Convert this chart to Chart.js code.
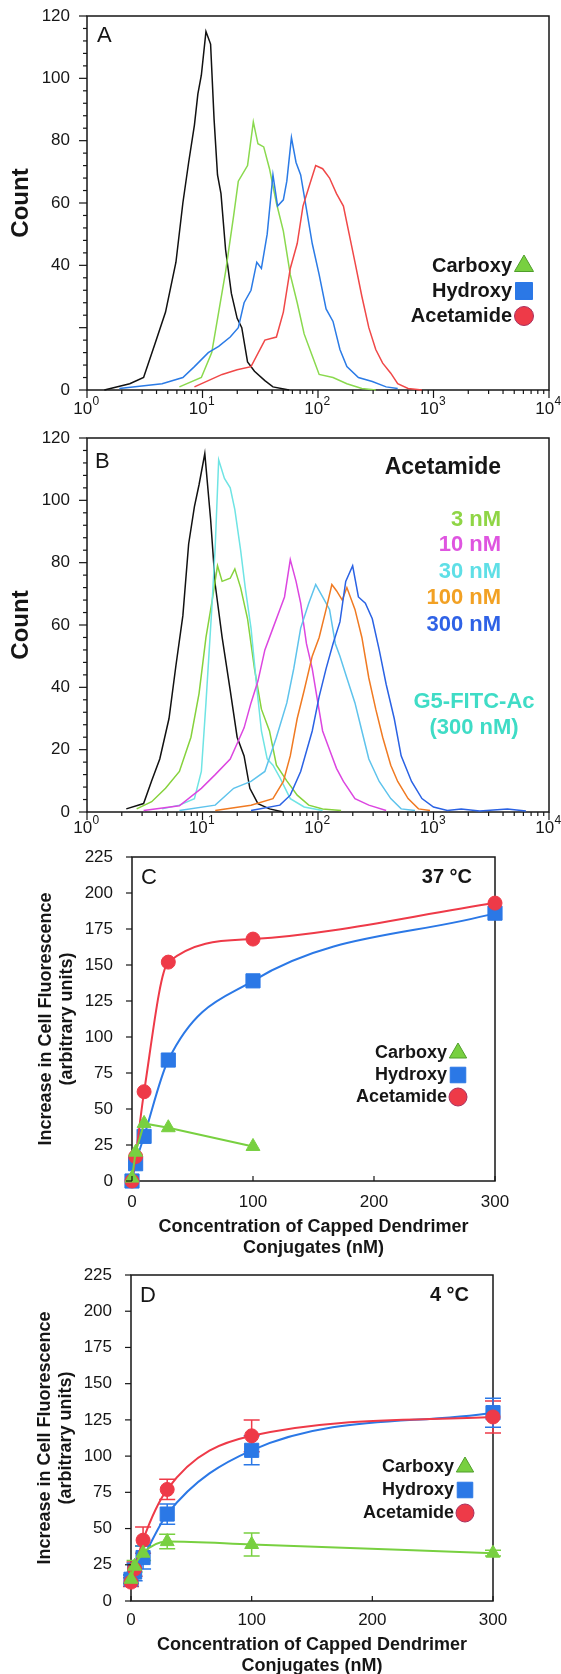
<!DOCTYPE html>
<html>
<head>
<meta charset="utf-8">
<script src="https://cdn.jsdelivr.net/npm/chart.js@4.4.1/dist/chart.umd.min.js"></script>
<style>
  html, body { margin:0; padding:0; background:#fff; }
  body { width:561px; height:1674px; position:relative; overflow:hidden; }
  canvas { position:absolute; left:0; display:block; }
</style>
</head>
<body>
<canvas id="chartA" width="561" height="428" style="top:0"></canvas>
<canvas id="chartB" width="561" height="412" style="top:428px"></canvas>
<canvas id="chartC" width="561" height="418" style="top:840px"></canvas>
<canvas id="chartD" width="561" height="416" style="top:1258px"></canvas>
<script>
const FONT = '"Liberation Sans", Arial, Helvetica, sans-serif';

// ---- axis ticks
const decadeTicks = [1, 10, 100, 1000, 10000];
const decadeExp = ["0", "1", "2", "3", "4"];
const doseXTicks = [0, 100, 200, 300];
const doseYTicks = [0, 25, 50, 75, 100, 125, 150, 175, 200, 225];

// ---- panel A histograms (x in log10 decades, y = count)
const ctrlA_d = [0.15,0.37,0.49,0.59,0.68,0.77,0.83,0.88,0.93,0.96,0.99,1.03,1.07,1.10,1.13,1.16,1.20,1.25,1.30,1.34,1.39,1.45,1.54,1.61,1.75];
const ctrlA   = [0,2,4,15,25,41,60,73,85,95,101,115,111,87,69,63,45,31,23,20,9,6,3,1,0];
const carbA_d = [0.80,0.99,1.08,1.14,1.20,1.27,1.31,1.39,1.44,1.48,1.53,1.58,1.64,1.70,1.76,1.82,1.88,1.95,2.01,2.13,2.25,2.38,2.50];
const carbA   = [1,4,12,25,38,56,67,72,86,79,78,71,60,51,37,28,18,11,5,4,2,0.5,0];
const hydA_d  = [0.28,0.65,0.83,0.93,1.05,1.14,1.24,1.31,1.36,1.42,1.47,1.51,1.56,1.61,1.65,1.70,1.73,1.77,1.81,1.85,1.90,1.95,2.01,2.07,2.13,2.19,2.25,2.35,2.47,2.59,2.69];
const hydA    = [0.5,2,4,7.5,12,14,17,20,28,32,41,39,50,69,59,61,67,81,73,69,58,47,37,26,22,13,7.5,4,2.7,1,0.5];
const acetA_d = [0.93,1.05,1.17,1.30,1.42,1.54,1.64,1.70,1.76,1.82,1.87,1.92,1.98,2.04,2.10,2.16,2.22,2.27,2.32,2.38,2.44,2.50,2.56,2.63,2.69,2.78,2.90];
const acetA   = [1,3,5,6.5,7.5,16,17,25,39,47,59,65,72,71,68,63,59,50,41,30,20,13,8.6,5.4,2,0.5,0];

// ---- panel B histograms (acetamide conjugate doses)
const ctrlB_d = [0.34,0.49,0.56,0.63,0.71,0.77,0.83,0.88,0.93,0.97,1.02,1.07,1.11,1.17,1.24,1.30,1.36,1.41,1.48,1.58,1.70];
const ctrlB   = [1,2.7,10,17,30,47,63,86,98,105,115,94,73,56,39,24,18,7.6,2.7,1,0];
const nm3B_d  = [0.43,0.56,0.68,0.80,0.90,0.97,1.03,1.08,1.13,1.17,1.24,1.28,1.33,1.39,1.45,1.51,1.58,1.64,1.73,1.82,1.92,2.04,2.20];
const nm3B    = [1,3.3,7.6,13,24,38,56,67,79,74,75,78,72,62,46,33,26,15,10,5.4,2.2,1,0.5];
const fitcB_d = [0.65,0.80,0.93,0.99,1.03,1.08,1.11,1.14,1.19,1.24,1.28,1.33,1.37,1.42,1.47,1.51,1.56,1.61,1.67,1.76,1.88,2.04];
const fitcB   = [1,2.2,4.3,13,35,65,85,113,107,104,97,84,72,59,40,26,17,15,11,4.3,1.6,0.5];
const nm10B_d = [0.49,0.80,0.99,1.11,1.24,1.30,1.36,1.42,1.48,1.54,1.61,1.67,1.71,1.76,1.81,1.85,1.90,1.95,1.99,2.04,2.10,2.16,2.22,2.32,2.44,2.59];
const nm10B   = [0.5,2,7.6,12,17,22,27,35,42,52,59,65,69,81,74,67,54,46,37,26,20,14,9.8,4.3,2.2,0.5];
const nm30B_d = [0.80,1.11,1.27,1.42,1.54,1.64,1.73,1.79,1.85,1.92,1.98,2.04,2.10,2.15,2.19,2.25,2.32,2.38,2.44,2.53,2.63,2.72,2.84];
const nm30B   = [0.5,2.2,7.6,9.8,13,24,35,46,59,67,73,69,65,54,50,43,35,26,17,9.8,4.3,1,0.5];
const nm100B_d = [1.11,1.42,1.61,1.70,1.76,1.82,1.88,1.95,2.01,2.07,2.12,2.16,2.21,2.25,2.32,2.38,2.44,2.50,2.56,2.63,2.69,2.78,2.87,2.97];
const nm100B   = [0.5,2.2,4.3,9.8,18,30,39,50,56,65,73,71,68,72,65,56,43,33,24,15,9.8,4.3,1,0.5];
const nm300B_d = [1.42,1.67,1.76,1.85,1.95,2.01,2.07,2.13,2.19,2.24,2.30,2.35,2.41,2.47,2.53,2.59,2.66,2.72,2.81,2.90,3.00,3.12,3.24,3.40,3.64,3.80];
const nm300B   = [0.5,2.2,5.4,13,26,37,46,54,61,74,79,69,67,62,52,41,30,18,9.8,4.3,1.6,0.5,1,0.3,1,0.3];

// ---- panel C (37 °C), concentration in nM
const concC     = [0, 3, 10, 30, 100, 300];
const concCarbC = [0, 3, 10, 30, 100];
const carbC = [2, 20, 40, 37, 24];
const hydC  = [0, 12, 31, 84, 139, 186];
const acetC = [0, 17, 62, 152, 168, 193];

// ---- panel D (4 °C) with error bars
const concD = [0, 3, 10, 30, 100, 300];
const carbD = [15, 24, 33, 41, 39, 33];
const carbDErr = [3, 4, 5, 5, 8, 2];
const hydD  = [15, 20, 30, 60, 104, 130];
const hydDErr = [3, 6, 8, 7, 10, 10];
const acetD = [13, 22, 42, 77, 114, 127];
const acetDErr = [3, 5, 9, 7, 11, 11];

const GREEN = "#78d040", BLUE = "#2b78e6", RED = "#ee3a48";

// ---------- plugins
const frame = {
  id: "frame",
  beforeDatasetsDraw(chart) {
    const {ctx, chartArea:a} = chart;
    ctx.save();
    ctx.strokeStyle = "#161616";
    ctx.lineWidth = 1.5;
    ctx.strokeRect(a.left, a.top, a.right - a.left, a.bottom - a.top);
    ctx.restore();
  }
};

const tickMarks = {
  id: "tickMarks",
  afterDraw(chart, args, opts) {
    if (!opts.marks) return;
    const {ctx, chartArea:a} = chart;
    ctx.save();
    ctx.strokeStyle = "#161616";
    ctx.lineWidth = 1.2;
    opts.marks.forEach(m => {
      const sc = chart.scales[m.axis];
      m.values.forEach(v => {
        const p = sc.getPixelForValue(v);
        ctx.beginPath();
        if (sc.isHorizontal()) {
          ctx.moveTo(p, a.bottom);
          ctx.lineTo(p, a.bottom + m.len * m.dir);
        } else {
          ctx.moveTo(a.left, p);
          ctx.lineTo(a.left - m.len * m.dir, p);
        }
        ctx.stroke();
      });
    });
    ctx.restore();
  }
};

const logLabels = {
  id: "logLabels",
  afterDraw(chart, args, opts) {
    if (!opts.values) return;
    const ctx = chart.ctx, sc = chart.scales.x;
    ctx.save();
    ctx.fillStyle = "#161616";
    ctx.textBaseline = "middle";
    ctx.textAlign = "left";
    opts.values.forEach((v, i) => {
      const p = sc.getPixelForValue(v);
      ctx.font = "17px " + FONT;
      const wb = ctx.measureText("10").width;
      ctx.font = "12px " + FONT;
      const we = ctx.measureText(opts.exps[i]).width;
      const x0 = p - (wb + we) / 2 - 1;
      ctx.font = "17px " + FONT;
      ctx.fillText("10", x0, opts.y);
      ctx.font = "12px " + FONT;
      ctx.fillText(opts.exps[i], x0 + wb + 0.5, opts.y - 7);
    });
    ctx.restore();
  }
};

const labels = {
  id: "labels",
  afterDraw(chart, args, opts) {
    if (!opts.items) return;
    const ctx = chart.ctx;
    opts.items.forEach(t => {
      ctx.save();
      ctx.font = t.font;
      ctx.fillStyle = t.color || "#161616";
      ctx.textAlign = t.align || "left";
      ctx.textBaseline = "middle";
      ctx.fillText(t.text, t.x, t.y);
      if (t.mark) {
        ctx.fillStyle = t.mark.color;
        ctx.strokeStyle = t.mark.edge || t.mark.color;
        ctx.lineWidth = 1;
        Chart.helpers.drawPoint(ctx, {pointStyle:t.mark.style, radius:t.mark.r, rotation:0, borderWidth:1}, t.mark.x, t.y);
      }
      ctx.restore();
    });
  }
};

const errorBars = {
  id: "errorBars",
  beforeDatasetsDraw(chart) {
    const ctx = chart.ctx, xs = chart.scales.x, ys = chart.scales.y;
    chart.data.datasets.forEach(ds => {
      if (!ds.errors) return;
      ctx.save();
      ctx.strokeStyle = ds.borderColor;
      ctx.lineWidth = 1.5;
      ds.data.forEach((p, i) => {
        const e = ds.errors[i];
        const x = xs.getPixelForValue(p.x);
        const y1 = ys.getPixelForValue(p.y - e), y2 = ys.getPixelForValue(p.y + e);
        ctx.beginPath();
        ctx.moveTo(x, y1); ctx.lineTo(x, y2);
        ctx.moveTo(x - 8, y1); ctx.lineTo(x + 8, y1);
        ctx.moveTo(x - 8, y2); ctx.lineTo(x + 8, y2);
        ctx.stroke();
      });
      ctx.restore();
    });
  }
};

Chart.register(frame, tickMarks, logLabels, labels, errorBars);
Chart.defaults.font.family = FONT;
Chart.defaults.color = "#161616";

// ---------- helpers
function histLine(ds, ys, color) {
  return {
    data: ds.map((d, i) => ({x: Math.pow(10, d), y: ys[i]})),
    borderColor: color, borderWidth: 1.5, pointRadius: 0, tension: 0, fill: false, clip: false
  };
}

function doseLine(xs, ys, color, style, r, smooth, errs) {
  return {
    data: xs.map((x, i) => ({x, y: ys[i]})),
    borderColor: color, backgroundColor: color, borderWidth: 2,
    pointStyle: style, pointRadius: r, pointBorderWidth: 1,
    cubicInterpolationMode: smooth ? "monotone" : "default", tension: 0,
    clip: false, errors: errs
  };
}

// the tick padding would otherwise be added above the plot area
function fixY(width) {
  return s => { s.width = width; s.paddingTop = 0; s.paddingBottom = 0; };
}

const logMinor = [];
decadeTicks.slice(0, 4).forEach(d => { for (let k = 2; k < 10; k++) logMinor.push(k * d); });
const countMinor = [];
for (let v = 4; v < 120; v += 4) if (v % 20) countMinor.push(v);

function histOptions(o) {
  return {
    responsive: false, animation: false, events: [],
    layout: { padding: { top: o.padTop, right: 12, left: 0, bottom: 0 } },
    plugins: {
      legend: { display: false }, tooltip: { enabled: false },
      logLabels: { values: decadeTicks, exps: decadeExp, y: o.logY },
      tickMarks: { marks: [
        { axis: "y", values: [0, 20, 40, 60, 80, 100, 120], len: 8, dir: 1 },
        { axis: "y", values: countMinor, len: 4, dir: 1 },
        { axis: "x", values: decadeTicks, len: 8, dir: 1 },
        { axis: "x", values: logMinor, len: 4, dir: 1 }
      ] },
      labels: { items: o.items }
    },
    scales: {
      x: { type: "logarithmic", min: 1, max: 10000,
           grid: { display: false, drawTicks: false }, border: { display: false },
           ticks: { display: false },
           afterFit: s => { s.height = o.axisH; } },
      y: { min: 0, max: 120,
           grid: { display: false, drawTicks: false }, border: { display: false },
           ticks: { stepSize: 20, padding: 17, font: { size: 17 }, callback: o.countLabel },
           title: { display: true, text: "Count", font: { size: 24, weight: "bold" }, padding: { top: 6.6, bottom: 0 } },
           afterFit: fixY(87) }
    }
  };
}

function doseOptions(o) {
  return {
    responsive: false, animation: false, events: [],
    layout: { padding: { top: 17, right: o.padRight, left: 0, bottom: 0 } },
    plugins: {
      legend: { display: false }, tooltip: { enabled: false },
      tickMarks: { marks: [
        { axis: "y", values: doseYTicks, len: 6, dir: 1 },
        { axis: "x", values: doseXTicks, len: 5, dir: -1 }
      ] },
      labels: { items: o.items }
    },
    scales: {
      x: { type: "linear", min: 0, max: 300,
           grid: { display: false, drawTicks: false }, border: { display: false },
           ticks: { stepSize: 100, padding: o.xPad, font: { size: 17 } },
           title: { display: true, text: ["Concentration of Capped Dendrimer", "Conjugates (nM)"],
                    font: { size: 18, weight: "bold", lineHeight: 1.15 }, padding: { top: 0, bottom: o.xTitlePad } },
           afterFit: s => { s.height = o.axisH; } },
      y: { min: 0, max: 225,
           grid: { display: false, drawTicks: false }, border: { display: false },
           ticks: { stepSize: 25, padding: 19, font: { size: 17 } },
           title: { display: true, text: ["Increase in Cell Fluorescence", "(arbitrary units)"],
                    font: { size: 18, weight: "bold", lineHeight: 1.2 }, padding: { top: o.yTitlePad, bottom: 0 } },
           afterFit: fixY(o.axisW) }
    }
  };
}

function legendItems(right, markX, ys, font, sizes) {
  return [
    { text: "Carboxy", x: right, y: ys[0], align: "right", font, mark: { style: "triangle", color: GREEN, edge: "#4f9e2a", r: sizes[0], x: markX } },
    { text: "Hydroxy", x: right, y: ys[1], align: "right", font, mark: { style: "rect", color: BLUE, r: sizes[1], x: markX } },
    { text: "Acetamide", x: right, y: ys[2], align: "right", font, mark: { style: "circle", color: RED, edge: "#a8305e", r: sizes[2], x: markX } }
  ];
}

// ---------- panel A
new Chart(document.getElementById("chartA"), {
  type: "line",
  data: { datasets: [
    histLine(acetA_d, acetA, "#f04848"),
    histLine(hydA_d, hydA, "#2b7be6"),
    histLine(carbA_d, carbA, "#8ad94e"),
    histLine(ctrlA_d, ctrlA, "#111111")
  ] },
  options: histOptions({
    padTop: 16, axisH: 38, logY: 409,
    countLabel: v => v === 20 ? "" : v,
    items: [{ text: "A", x: 97, y: 36, font: "22px " + FONT }]
      .concat(legendItems(512, 524, [266, 291, 316], "bold 20px " + FONT, [11, 12, 9.5]))
  })
});

// ---------- panel B
const bFont = "bold 22px " + FONT;
new Chart(document.getElementById("chartB"), {
  type: "line",
  data: { datasets: [
    histLine(nm300B_d, nm300B, "#2a62e4"),
    histLine(nm100B_d, nm100B, "#f07a22"),
    histLine(nm30B_d, nm30B, "#5ec3ec"),
    histLine(nm10B_d, nm10B, "#dc46e0"),
    histLine(fitcB_d, fitcB, "#6fe4e4"),
    histLine(nm3B_d, nm3B, "#86d23c"),
    histLine(ctrlB_d, ctrlB, "#111111")
  ] },
  options: histOptions({
    padTop: 10, axisH: 28, logY: 400,
    countLabel: v => v,
    items: [
      { text: "B", x: 95, y: 34, font: "22px " + FONT },
      { text: "Acetamide", x: 501, y: 40, align: "right", font: "bold 23px " + FONT },
      { text: "3 nM", x: 501, y: 92, align: "right", font: bFont, color: "#8fd545" },
      { text: "10 nM", x: 501, y: 117, align: "right", font: bFont, color: "#df55e0" },
      { text: "30 nM", x: 501, y: 144, align: "right", font: bFont, color: "#5fdfe6" },
      { text: "100 nM", x: 501, y: 170, align: "right", font: bFont, color: "#f2a124" },
      { text: "300 nM", x: 501, y: 197, align: "right", font: bFont, color: "#2f62e6" },
      { text: "G5-FITC-Ac", x: 474, y: 274, align: "center", font: bFont, color: "#3fdcc6" },
      { text: "(300 nM)", x: 474, y: 300, align: "center", font: bFont, color: "#3fdcc6" }
    ]
  })
});

// ---------- panel C
new Chart(document.getElementById("chartC"), {
  type: "line",
  data: { datasets: [
    doseLine(concCarbC, carbC, GREEN, "triangle", 8, false),
    doseLine(concC, acetC, RED, "circle", 7, true),
    doseLine(concC, hydC, BLUE, "rect", 10, true)
  ] },
  options: doseOptions({
    padRight: 66, axisW: 132, axisH: 77, xPad: 11, xTitlePad: 0, yTitlePad: 35,
    items: [
      { text: "C", x: 141, y: 38, font: "22px " + FONT },
      { text: "37 °C", x: 472, y: 37, align: "right", font: "bold 20px " + FONT }
    ].concat(legendItems(447, 458, [213, 235, 257], "bold 18px " + FONT, [10, 11, 9]))
  })
});

// ---------- panel D
new Chart(document.getElementById("chartD"), {
  type: "line",
  data: { datasets: [
    doseLine(concD, carbD, GREEN, "triangle", 8, true, carbDErr),
    doseLine(concD, acetD, RED, "circle", 7, true, acetDErr),
    doseLine(concD, hydD, BLUE, "rect", 10, true, hydDErr)
  ] },
  options: doseOptions({
    padRight: 68, axisW: 131, axisH: 73, xPad: 9, xTitlePad: -2, yTitlePad: 34,
    items: [
      { text: "D", x: 140, y: 38, font: "22px " + FONT },
      { text: "4 °C", x: 469, y: 37, align: "right", font: "bold 20px " + FONT }
    ].concat(legendItems(454, 465, [209, 232, 255], "bold 18px " + FONT, [10, 11, 9]))
  })
});
</script>
</body>
</html>
